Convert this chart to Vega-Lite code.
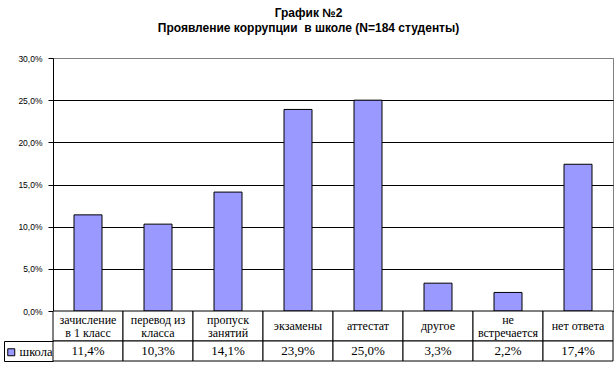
{
  "$schema": "https://vega.github.io/schema/vega-lite/v6.json",
  "padding": {"left": 3, "top": 6, "right": 3, "bottom": 3},
  "background": "white",
  "config": {
    "locale": {"number": {"decimal": ",", "thousands": " ", "grouping": [3], "currency": ["", ""]}},
    "view": {"stroke": null},
    "font": "Liberation Sans"
  },
  "title": {
    "text": ["График №2", "Проявление коррупции \u00a0в школе (N=184 студенты)"],
    "font": "Liberation Sans", "fontSize": 12, "fontWeight": "bold", "lineHeight": 15,
    "anchor": "middle", "offset": 19, "color": "black"
  },
  "datasets": {
    "d": [
      {"cat": "зачисление\nв 1 класс", "series": "школа", "value": 0.114},
      {"cat": "перевод из\nкласса", "series": "школа", "value": 0.103},
      {"cat": "пропуск\nзанятий", "series": "школа", "value": 0.141},
      {"cat": "экзамены", "series": "школа", "value": 0.239},
      {"cat": "аттестат", "series": "школа", "value": 0.25},
      {"cat": "другое", "series": "школа", "value": 0.033},
      {"cat": "не\nвстречается", "series": "школа", "value": 0.022},
      {"cat": "нет ответа", "series": "школа", "value": 0.174}
    ]
  },
  "data": {"name": "d"},
  "bounds": "flush",
  "spacing": 0,
  "vconcat": [
    {
      "width": 560, "height": 253,
      "view": {"stroke": "#808080"},
      "mark": {"type": "bar", "stroke": "black", "strokeWidth": 1},
      "encoding": {
        "x": {"field": "cat", "type": "nominal", "sort": null, "scale": {"paddingInner": 0.6, "paddingOuter": 0.3}, "axis": null},
        "y": {"field": "value", "type": "quantitative", "scale": {"domain": [0, 0.3], "nice": false},
          "axis": {"values": [0, 0.05, 0.1, 0.15, 0.2, 0.25, 0.3], "format": ".1%", "title": null, "grid": true,
            "gridColor": {"condition": {"test": "datum.value >= 0.299", "value": "#808080"}, "value": "black"},
            "gridOpacity": 1, "domainColor": "black", "tickColor": "black", "tickSize": 5,
            "labelFont": "Liberation Sans", "labelFontSize": 8.5, "labelColor": "black", "labelPadding": 6}},
        "color": {"field": "series", "type": "nominal", "scale": {"range": ["#9999ff"]},
          "legend": {"orient": "none", "legendX": -48, "legendY": 288, "title": null, "symbolType": "square",
            "symbolSize": 49, "symbolStrokeColor": "black", "symbolStrokeWidth": 1, "symbolOpacity": 1,
            "labelFont": "Liberation Serif", "labelFontSize": 12.5, "labelColor": "black", "padding": 0, "labelOffset": 2}}
      }
    },
    {
      "width": 560, "height": 30,
      "layer": [
        {"mark": {"type": "rect", "fill": "white", "stroke": "black", "strokeWidth": 1},
         "encoding": {"x": {"field": "cat", "type": "nominal", "sort": null, "scale": {"paddingInner": 0, "paddingOuter": 0}, "axis": null}}},
        {"transform": [{"filter": "indexof(datum.cat, '\\n') < 0"}],
         "mark": {"type": "text", "font": "Liberation Serif", "fontSize": 12, "baseline": "middle", "color": "black"},
         "encoding": {"x": {"field": "cat", "type": "nominal", "sort": null, "axis": null}, "text": {"field": "cat"}}},
        {"transform": [{"filter": "indexof(datum.cat, '\\n') >= 0"}],
         "mark": {"type": "text", "font": "Liberation Serif", "fontSize": 12, "lineBreak": "\n", "baseline": "middle", "lineHeight": 13, "dy": -6.5, "color": "black"},
         "encoding": {"x": {"field": "cat", "type": "nominal", "sort": null, "axis": null}, "text": {"field": "cat"}}}
      ]
    },
    {
      "width": 560, "height": 20,
      "layer": [
        {"mark": {"type": "rect", "fill": "white", "stroke": "black", "strokeWidth": 1},
         "encoding": {
           "x": {"field": "cat", "type": "nominal", "sort": null, "scale": {"paddingInner": 0, "paddingOuter": 0}, "axis": null},
           "y": {"field": "series", "type": "nominal", "scale": {"paddingInner": 0, "paddingOuter": 0},
             "axis": {"orient": "left", "offset": 49, "labels": false, "title": null, "domain": true, "domainColor": "black",
               "ticks": true, "tickBand": "extent", "tickSize": -49, "tickColor": "black", "grid": false}}}},
        {"mark": {"type": "text", "font": "Liberation Serif", "fontSize": 13, "baseline": "middle", "color": "black"},
         "encoding": {"x": {"field": "cat", "type": "nominal", "sort": null, "axis": null}, "text": {"field": "value", "type": "quantitative", "format": ".1%"}}}
      ]
    }
  ]
}
